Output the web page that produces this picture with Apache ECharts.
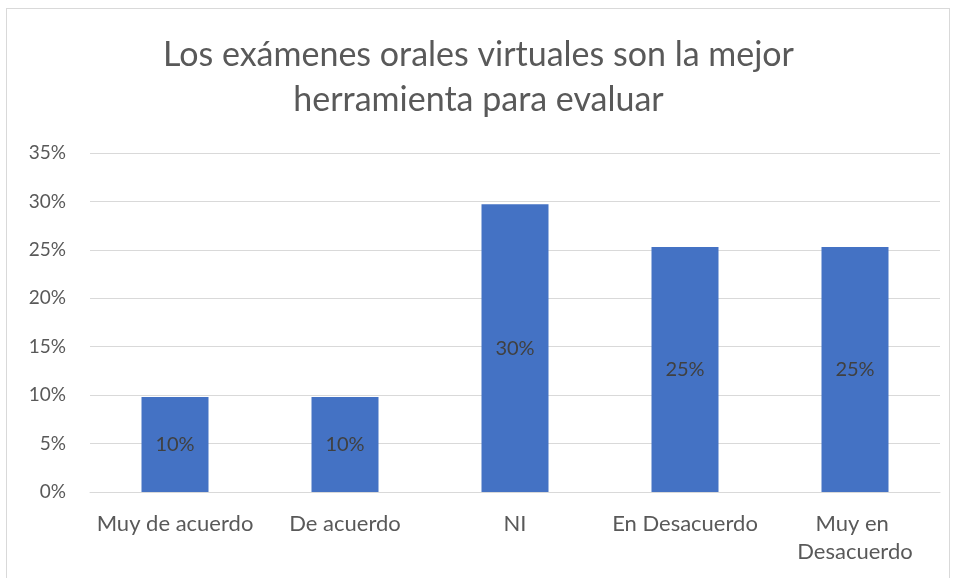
<!DOCTYPE html>
<html>
<head>
<meta charset="utf-8">
<script src="https://cdn.jsdelivr.net/npm/echarts@6/dist/echarts.min.js"></script>
<style>
  html, body { margin: 0; padding: 0; background: #fff; }
  #frame { position: absolute; left: 6px; top: 8px; width: 944px; height: 575px; border: 1px solid #d9d9d9; box-sizing: border-box; }
  #chart { width: 957px; height: 578px; }
</style>
</head>
<body>
<div id="frame"></div>
<div id="chart"></div>
<script>
  // categorias y valores
  var categories = ['Muy de acuerdo', 'De acuerdo', 'NI', 'En Desacuerdo', 'Muy en Desacuerdo'];
  var values = [0.098, 0.098, 0.297, 0.253, 0.253];
  var titleText = 'Los exámenes orales virtuales son la mejor\nherramienta para evaluar';

  var chart = echarts.init(document.getElementById('chart'));
  var font = 'Lato, "Open Sans", sans-serif';

  chart.setOption({
    backgroundColor: 'transparent',
    animation: false,
    title: {
      text: titleText,
      left: 'center',
      top: 28,
      textStyle: {
        fontFamily: font,
        fontSize: 34,
        fontWeight: 'normal',
        color: '#595959',
        lineHeight: 45
      }
    },
    grid: {
      left: 90,
      right: 17,
      top: 153,
      bottom: 86
    },
    xAxis: {
      type: 'category',
      data: categories,
      axisLine: { lineStyle: { color: '#d9d9d9' } },
      axisTick: { show: false },
      axisLabel: {
        interval: 0,
        margin: 18,
        width: 168,
        overflow: 'break',
        lineHeight: 28,
        fontFamily: font,
        fontSize: 22,
        color: '#595959'
      }
    },
    yAxis: {
      type: 'value',
      min: 0,
      max: 0.35,
      interval: 0.05,
      axisLine: { show: false },
      axisTick: { show: false },
      splitLine: { lineStyle: { color: '#d9d9d9', width: 1 } },
      axisLabel: {
        margin: 24,
        fontFamily: font,
        fontSize: 19,
        color: '#595959',
        formatter: function (v) { return Math.round(v * 100) + '%'; }
      }
    },
    series: [{
      type: 'bar',
      data: values,
      barWidth: 67,
      itemStyle: { color: '#4472C4' },
      label: {
        show: true,
        position: 'inside',
        fontFamily: font,
        fontSize: 20,
        color: '#404040',
        formatter: function (p) { return Math.round(p.value * 100) + '%'; }
      }
    }]
  });
</script>
</body>
</html>
